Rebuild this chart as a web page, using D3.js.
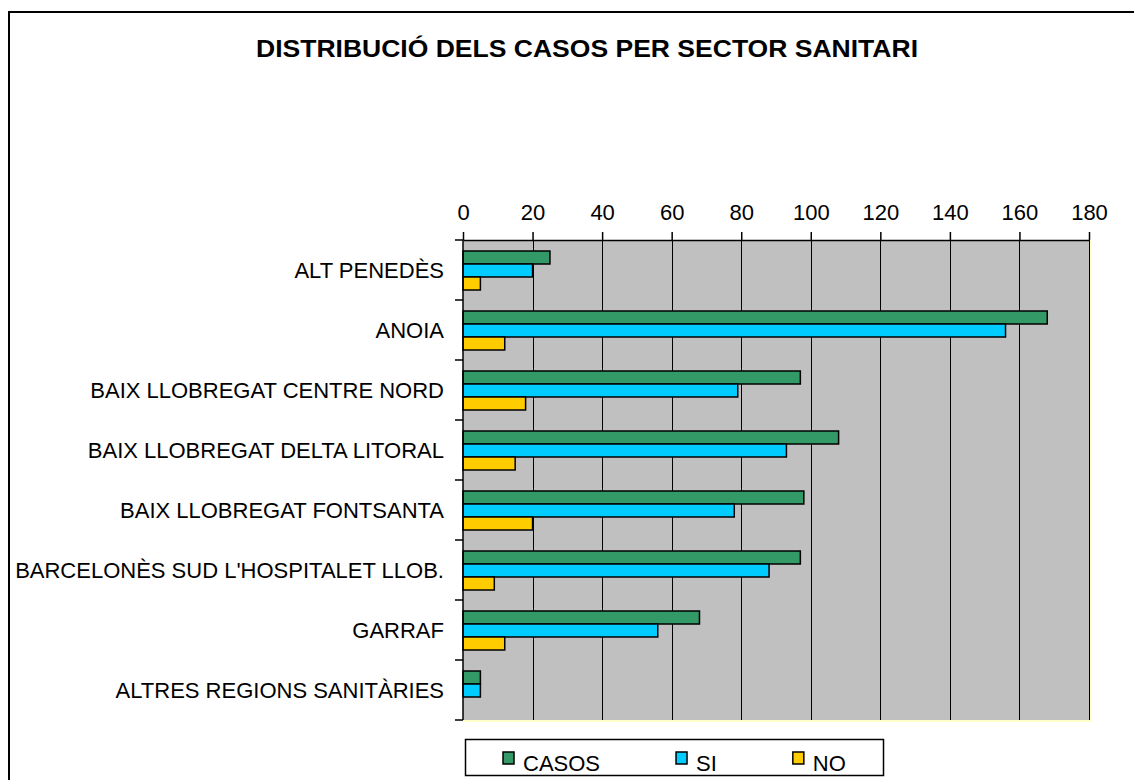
<!DOCTYPE html>
<html>
<head>
<meta charset="utf-8">
<script src="https://cdn.jsdelivr.net/npm/d3@7"></script>
<style>
  body { margin: 0; background: #fff; }
  text { font-family: "Liberation Sans", Arial, sans-serif; fill: #000; }
</style>
</head>
<body>
<svg width="1134" height="780"></svg>
<script>
var svg = d3.select('svg');

// Data
var sectors = ['ALT PENEDÈS', 'ANOIA', 'BAIX LLOBREGAT CENTRE NORD', 'BAIX LLOBREGAT DELTA LITORAL',
    'BAIX LLOBREGAT FONTSANTA', "BARCELONÈS SUD L'HOSPITALET LLOB.", 'GARRAF', 'ALTRES REGIONS SANITÀRIES'];
var seriesNames = ['CASOS', 'SI', 'NO'];
var casos = [25, 168, 97, 108, 98, 97, 68, 5];
var si = [20, 156, 79, 93, 78, 88, 56, 5];
var no = [5, 12, 18, 15, 20, 9, 12, 0];
var xTicks = [0, 20, 40, 60, 80, 100, 120, 140, 160, 180];

var colors = {'CASOS': '#339966', 'SI': '#00CCFF', 'NO': '#FFCC00'};
var seriesValues = {'CASOS': casos, 'SI': si, 'NO': no};

var plot = {l: 463, r: 1089, t: 240, b: 720};

var xScale = d3.scaleLinear().domain([0, 180]).range([plot.l, plot.r]);
var yScale = d3.scaleBand().domain(sectors).range([plot.t, plot.b]);
var inner = d3.scaleBand().domain(seriesNames).range([11, 50]);

// outer frame (open on right and bottom like the crop)
svg.append('path')
    .attr('d', 'M9,780V12H1134')
    .attr('fill', 'none')
    .attr('stroke', '#000')
    .attr('stroke-width', 2);

// title, slightly stretched like the original
svg.append('text')
    .attr('x', 256)
    .attr('y', 57)
    .attr('textLength', 662)
    .attr('lengthAdjust', 'spacingAndGlyphs')
    .style('font-size', '24px')
    .style('font-weight', 'bold')
    .text('DISTRIBUCIÓ DELS CASOS PER SECTOR SANITARI');

// plot background
svg.append('rect')
    .attr('x', plot.l).attr('y', plot.t)
    .attr('width', plot.r - plot.l).attr('height', plot.b - plot.t)
    .attr('fill', '#C0C0C0');

// pale border on right and bottom
svg.append('path')
    .attr('d', 'M' + (plot.r + 1) + ',' + plot.t + 'V' + (plot.b + 1) + 'H' + plot.l)
    .attr('fill', 'none')
    .attr('stroke', '#FFFFC8')
    .attr('stroke-width', 2);

// vertical gridlines
svg.selectAll('.grid')
    .data(xTicks.slice(1))
    .enter()
    .append('line')
    .attr('class', 'grid')
    .attr('x1', function(d) { return Math.round(xScale(d)) + 0.5; })
    .attr('x2', function(d) { return Math.round(xScale(d)) + 0.5; })
    .attr('y1', plot.t)
    .attr('y2', plot.b)
    .attr('stroke', '#000')
    .attr('stroke-width', 1);

// top axis
var xAxis = d3.axisTop(xScale).tickValues(xTicks).tickSize(8).tickPadding(12).tickSizeOuter(0);
var xAxisG = svg.append('g')
    .attr('transform', 'translate(0,' + plot.t + ')')
    .call(xAxis);
xAxisG.selectAll('text').style('font-size', '22px').attr('font-family', null);
xAxisG.selectAll('line, path').attr('stroke', '#000').attr('stroke-width', 1.5);

// bars
var groups = svg.selectAll('.sector')
    .data(sectors)
    .enter()
    .append('g')
    .attr('class', 'sector')
    .attr('transform', function(d) { return 'translate(0,' + yScale(d) + ')'; });

groups.selectAll('rect')
    .data(function(d, i) {
        return seriesNames.map(function(s) { return {series: s, value: seriesValues[s][i]}; })
            .filter(function(b) { return b.value > 0; });
    })
    .enter()
    .append('rect')
    .attr('x', xScale(0))
    .attr('y', function(d) { return inner(d.series); })
    .attr('width', function(d) { return xScale(d.value) - xScale(0); })
    .attr('height', inner.bandwidth())
    .attr('fill', function(d) { return colors[d.series]; })
    .attr('stroke', '#000')
    .attr('stroke-width', 1.5);

// left axis: line, boundary ticks and labels
svg.append('line')
    .attr('x1', plot.l).attr('x2', plot.l)
    .attr('y1', plot.t).attr('y2', plot.b)
    .attr('stroke', '#000').attr('stroke-width', 1.5);

var bounds = sectors.map(function(d) { return yScale(d); }).concat([plot.b]);
svg.selectAll('.ytick')
    .data(bounds)
    .enter()
    .append('line')
    .attr('class', 'ytick')
    .attr('x1', plot.l - 8).attr('x2', plot.l)
    .attr('y1', function(d) { return d; })
    .attr('y2', function(d) { return d; })
    .attr('stroke', '#000').attr('stroke-width', 1.5);

svg.selectAll('.ylabel')
    .data(sectors)
    .enter()
    .append('text')
    .attr('class', 'ylabel')
    .attr('x', 444)
    .attr('y', function(d) { return yScale(d) + yScale.bandwidth() / 2; })
    .attr('dy', '0.35em')
    .attr('text-anchor', 'end')
    .style('font-size', '22px')
    .text(function(d) { return d; });

// legend
var legend = svg.append('g');
legend.append('rect')
    .attr('x', 465.5).attr('y', 739.5)
    .attr('width', 418).attr('height', 36)
    .attr('fill', '#fff')
    .attr('stroke', '#000')
    .attr('stroke-width', 1.5);

var lx = 503;
seriesNames.forEach(function(s) {
    legend.append('rect')
        .attr('x', lx).attr('y', 752)
        .attr('width', 11).attr('height', 12)
        .attr('fill', colors[s])
        .attr('stroke', '#000')
        .attr('stroke-width', 1.5);
    var t = legend.append('text')
        .attr('x', lx + 20)
        .attr('y', 771)
        .style('font-size', '22px')
        .text(s);
    lx += 20 + t.node().getComputedTextLength() + 76;
});
</script>
</body>
</html>
